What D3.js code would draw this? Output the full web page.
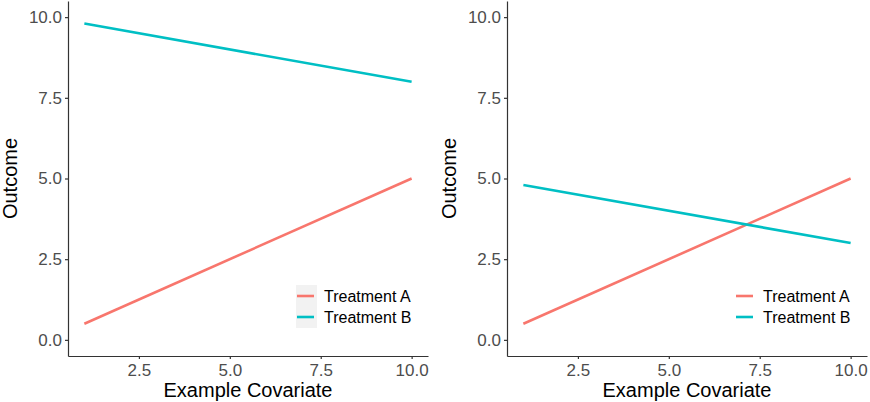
<!DOCTYPE html>
<html>
<head>
<meta charset="utf-8">
<script src="https://cdn.jsdelivr.net/npm/d3@7"></script>
<style>
  body { margin: 0; background: #fff; }
  svg { display: block; font-family: "Liberation Sans", Arial, sans-serif; }
</style>
</head>
<body>
<div id="chart"></div>
<script>
var covariate = [1, 10];
var seriesNames = ["Treatment A", "Treatment B"];
var seriesColors = ["#F8766D", "#00BFC4"];
var leftA = [0.5, 5.0];
var leftB = [9.8, 8.0];
var rightA = [0.5, 5.0];
var rightB = [4.8, 3.0];
var xTicks = [2.5, 5.0, 7.5, 10.0];
var yTicks = [0.0, 2.5, 5.0, 7.5, 10.0];

var svgWidth = 870;
var svgHeight = 402;

var svg = d3.select("#chart")
  .append("svg")
  .attr("width", svgWidth)
  .attr("height", svgHeight);

var panels = [
  {left: 68, series: [leftA, leftB], keyBg: true},
  {left: 507, series: [rightA, rightB], keyBg: false}
];
var panelWidth = 360;
var panelTop = 1;
var panelBottom = 356;

panels.forEach(function(p) {
  var x = d3.scaleLinear().domain([0.55, 10.45]).range([p.left, p.left + panelWidth]);
  var y = d3.scaleLinear().domain([-0.5, 10.5]).range([panelBottom, panelTop]);

  var xAxis = svg.append("g")
    .attr("transform", `translate(0, ${panelBottom})`)
    .call(d3.axisBottom(x).tickValues(xTicks).tickFormat(d3.format(".1f"))
      .tickSize(3).tickSizeOuter(0).tickPadding(5));

  var yAxis = svg.append("g")
    .attr("transform", `translate(${p.left}, 0)`)
    .call(d3.axisLeft(y).tickValues(yTicks).tickFormat(d3.format(".1f"))
      .tickSize(3).tickSizeOuter(0).tickPadding(3));

  [xAxis, yAxis].forEach(function(ax) {
    ax.select(".domain").attr("stroke", "#333").attr("stroke-width", 1.2);
    ax.selectAll(".tick line").attr("stroke", "#333").attr("stroke-width", 1.2);
    ax.selectAll(".tick text")
      .attr("fill", "#4D4D4D")
      .style("font-size", "17px")
      .style("font-family", "'Liberation Sans', Arial, sans-serif");
  });

  var line = d3.line()
    .x(function(d, i) { return x(covariate[i]); })
    .y(function(d) { return y(d); });

  p.series.forEach(function(vals, i) {
    svg.append("path")
      .datum(vals)
      .attr("fill", "none")
      .attr("stroke", seriesColors[i])
      .attr("stroke-width", 2.6)
      .attr("d", line);
  });

  // axis titles
  svg.append("text")
    .attr("x", p.left + panelWidth / 2)
    .attr("y", 397)
    .attr("text-anchor", "middle")
    .style("font-size", "20px")
    .attr("fill", "#000")
    .text("Example Covariate");

  svg.append("text")
    .attr("transform", `translate(${p.left - 51}, ${(panelTop + panelBottom) / 2}) rotate(-90)`)
    .attr("text-anchor", "middle")
    .style("font-size", "20px")
    .attr("fill", "#000")
    .text("Outcome");

  // legend
  var keyX = p.left + panelWidth - 131;
  var legend = svg.append("g");
  if (p.keyBg) {
    legend.append("rect")
      .attr("x", keyX - 1)
      .attr("y", 285)
      .attr("width", 21)
      .attr("height", 43)
      .attr("fill", "#F2F2F2");
  }
  seriesNames.forEach(function(name, i) {
    var ky = 296 + i * 21;
    legend.append("line")
      .attr("x1", keyX).attr("x2", keyX + 17)
      .attr("y1", ky).attr("y2", ky)
      .attr("stroke", seriesColors[i])
      .attr("stroke-width", 2.6);
    legend.append("text")
      .attr("x", keyX + 27)
      .attr("y", ky)
      .attr("dy", "0.35em")
      .style("font-size", "16px")
      .attr("fill", "#000")
      .text(name);
  });
});
</script>
</body>
</html>
